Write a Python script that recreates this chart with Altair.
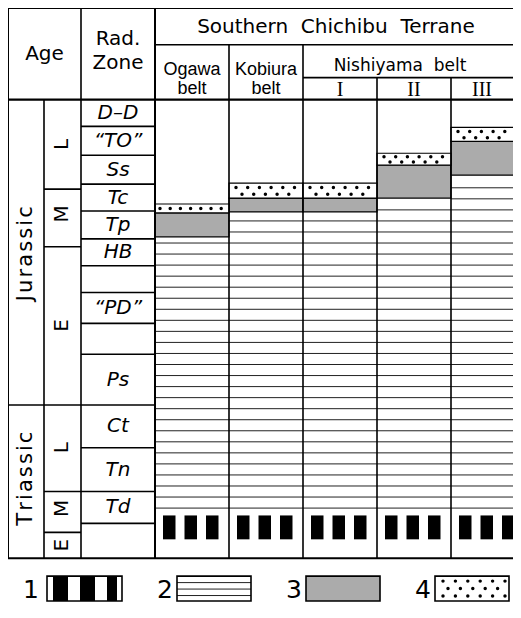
import altair as alt
import numpy as np
import pandas as pd

# ---------------- values ----------------
# radiolarian zones (top -> bottom) and their boundaries on the diagram's vertical scale
ZONE_LABELS = ["D–D", "“TO”", "Ss", "Tc", "Tp", "HB", "", "“PD”", "", "Ps", "Ct", "Tn", "Td", ""]
ZONE_TOP = [97, 124, 153, 182, 209, 237, 264, 291, 322, 353, 404, 447, 491, 523]
ZONE_BOTTOM = ZONE_TOP[1:] + [558]

PERIODS = ["Jurassic", "Triassic"]
PERIOD_TOP = [97, 404]
PERIOD_BOTTOM = [404, 558]

EPOCHS = ["L", "M", "E", "L", "M", "E"]
EPOCH_TOP = [97, 187, 245, 404, 491, 532]
EPOCH_BOTTOM = [187, 245, 404, 491, 532, 558]

BELTS = ["Ogawa", "Kobiura", "Nishiyama I", "Nishiyama II", "Nishiyama III"]
BELT_LEFT = [155, 229, 303, 377, 451]
BELT_RIGHT = [229, 303, 377, 451, 518]
SANDSTONE_TOP = [202, 181, 181, 151, 125]   # legend 4 (dotted)
SHALE_TOP = [211, 196, 196, 163, 139]       # legend 3 (grey)
CHERT_TOP = [235, 210, 210, 196, 173]       # legend 2 (ruled)
CHERT_BOTTOM = [508, 508, 508, 508, 508]
STRIPE_TOP = [515, 515, 515, 515, 515]      # legend 1 (black/white)
STRIPE_BOTTOM = [539, 539, 539, 539, 539]

LEGEND_KEYS = ["1", "2", "3", "4"]

# ---------------- layout ----------------
FRAME_L, FRAME_T, FRAME_B, FRAME_R = 8, 5, 558, 518
AGE_SPLIT, AGE_R, ZONE_R = 44, 81, 155
HEAD_ROW1, HEAD_ROW2, HEAD_B = 42, 75, 97
LEG_T, LEG_B = 576, 601
LEG_BOX = [(47, 122), (177, 251), (306, 380), (435, 509)]
LEG_NUM_X = [31, 165, 294, 423]
GREY = "#ababab"
VIS_R = 513

XS = alt.Scale(domain=[8, VIS_R], range=[0, VIS_R - 8], nice=False, zero=False)
YS = alt.Scale(domain=[5, 604], range=[0, 596], nice=False, zero=False)


def rect_layer(df, **kw):
    return alt.Chart(df).mark_rect(clip=True, **kw).encode(
        x=alt.X("x:Q", scale=XS, axis=None), x2="x2:Q",
        y=alt.Y("y:Q", scale=YS, axis=None), y2="y2:Q")


def rule_layer(df, color="black"):
    return alt.Chart(df).mark_rule(color=color, clip=True).encode(
        x=alt.X("x:Q", scale=XS, axis=None), x2="x2:Q",
        y=alt.Y("y:Q", scale=YS, axis=None), y2="y2:Q",
        strokeWidth=alt.StrokeWidth("w:Q", scale=None))


def text_layer(df, **kw):
    return alt.Chart(df).mark_text(color="black", align="center", baseline="middle", **kw).encode(
        x=alt.X("x:Q", scale=XS, axis=None), y=alt.Y("y:Q", scale=YS, axis=None), text="t:N")


def dot_layer(df):
    return alt.Chart(df).mark_circle(color="black", opacity=1, size=12).encode(
        x=alt.X("x:Q", scale=XS, axis=None), y=alt.Y("y:Q", scale=YS, axis=None))


layers = []

# ---- grey (3) ----
grey = pd.DataFrame(dict(x=BELT_LEFT, x2=BELT_RIGHT, y=SHALE_TOP, y2=CHERT_TOP))
layers.append(rect_layer(grey, fill=GREY, stroke="black", strokeWidth=1.2))

# ---- dotted (4) outline ----
sand = pd.DataFrame(dict(x=BELT_LEFT, x2=BELT_RIGHT, y=SANDSTONE_TOP, y2=SHALE_TOP))
layers.append(rect_layer(sand, fill="white", stroke="black", strokeWidth=1.2))

# dot pattern
dots = []
for L, R, t, b in zip(BELT_LEFT, BELT_RIGHT, SANDSTONE_TOP, SHALE_TOP):
    R = min(R, VIS_R)
    h = b - t
    if h < 12:
        for xv in np.arange(L + 5, R - 2, 10.2):
            dots.append(dict(x=xv, y=(t + b) / 2))
    else:
        for frac, off in [(0.30, 7), (0.74, 13)]:
            for xv in np.arange(L + off, R - 3, 11.7):
                dots.append(dict(x=xv, y=t + h * frac))
layers.append(dot_layer(pd.DataFrame(dots)))

# ---- ruled chert (2) ----
chert = []
for L, R, t, b in zip(BELT_LEFT, BELT_RIGHT, CHERT_TOP, CHERT_BOTTOM):
    for yv in np.arange(-5, 27) * 11.1 + 219:
        if t + 3 < yv <= b + 0.5:
            chert.append(dict(x=L, x2=R, y=yv, y2=yv, w=1.0))
layers.append(rule_layer(pd.DataFrame(chert), color="#222222"))

# ---- black/white band (1) ----
bars = []
for L, t, b in zip(BELT_LEFT, STRIPE_TOP, STRIPE_BOTTOM):
    for k in range(3):
        bars.append(dict(x=L + 8 + 21.5 * k, x2=L + 8 + 21.5 * k + 12.5, y=t, y2=b))
layers.append(rect_layer(pd.DataFrame(bars), fill="black"))

# ---- table grid ----
segs = []


def H(y, x1, x2, w=1.6):
    segs.append(dict(x=x1, x2=x2, y=y, y2=y, w=w))


def V(x, y1, y2, w=1.6):
    segs.append(dict(x=x, x2=x, y=y1, y2=y2, w=w))


H(FRAME_T, FRAME_L, FRAME_R, 2)
H(HEAD_ROW1, ZONE_R, FRAME_R)
H(HEAD_ROW2, BELT_LEFT[2], FRAME_R)
H(HEAD_B, FRAME_L, FRAME_R, 2.2)
H(FRAME_B, FRAME_L, FRAME_R, 2)
for yv in ZONE_TOP[1:]:
    H(yv, AGE_R, ZONE_R)
for yv in EPOCH_TOP[1:]:
    if yv in PERIOD_TOP:
        H(yv, FRAME_L, AGE_R)
    else:
        H(yv, AGE_SPLIT, AGE_R)
V(FRAME_L, FRAME_T, FRAME_B, 2)
V(AGE_R, FRAME_T, FRAME_B)
V(ZONE_R, FRAME_T, FRAME_B, 2)
V(AGE_SPLIT, HEAD_B, FRAME_B)
V(BELT_LEFT[1], HEAD_ROW1, FRAME_B)
V(BELT_LEFT[2], HEAD_ROW1, FRAME_B)
V(BELT_LEFT[3], HEAD_ROW2, FRAME_B)
V(BELT_LEFT[4], HEAD_ROW2, FRAME_B)
layers.append(rule_layer(pd.DataFrame(segs)))

# ---- texts ----
SANS = "DejaVu Sans"
head = pd.DataFrame([
    dict(x=44.5, y=51, t="Age"),
    dict(x=118, y=36, t="Rad."),
    dict(x=118, y=60, t="Zone"),
    dict(x=336, y=24, t="Southern\u00a0 Chichibu\u00a0 Terrane"),
])
layers.append(text_layer(head, font=SANS, fontSize=20))

belt_head = pd.DataFrame([
    dict(x=192, y=67, t="Ogawa"), dict(x=192, y=86, t="belt"),
    dict(x=266, y=67, t="Kobiura"), dict(x=266, y=86, t="belt"),
])
layers.append(text_layer(belt_head, font="Liberation Sans", fontSize=18))
layers.append(text_layer(pd.DataFrame([dict(x=400, y=63, t="Nishiyama\u00a0 belt")]),
                         font=SANS, fontSize=17))
roman = pd.DataFrame([dict(x=340, y=87, t="I"), dict(x=414, y=87, t="II"), dict(x=482, y=87, t="III")])
layers.append(text_layer(roman, font="Liberation Serif", fontSize=20))

zones = pd.DataFrame(dict(x=[118] * len(ZONE_LABELS),
                          y=[(a + b) / 2 for a, b in zip(ZONE_TOP, ZONE_BOTTOM)],
                          t=ZONE_LABELS))
layers.append(text_layer(zones, font=SANS, fontSize=20, fontStyle="italic"))

periods = pd.DataFrame(dict(x=[26, 26], y=[252, 478],
                            t=["\u200a".join(p) for p in PERIODS]))
layers.append(text_layer(periods, font=SANS, fontSize=21, angle=270))

epochs = pd.DataFrame(dict(x=[62] * len(EPOCHS),
                           y=[142, 212, 324, 447, 508, 545],
                           t=EPOCHS))
layers.append(text_layer(epochs, font=SANS, fontSize=20, angle=270))

# ---- legend ----
leg_fill = pd.DataFrame([dict(x=LEG_BOX[2][0], x2=LEG_BOX[2][1], y=LEG_T, y2=LEG_B)])
layers.append(rect_layer(leg_fill, fill=GREY))
leg_bars = pd.DataFrame([dict(x=a, x2=b, y=LEG_T, y2=LEG_B) for a, b in [(53, 68), (80, 95), (107, 117)]])
layers.append(rect_layer(leg_bars, fill="black"))
leg_lines = pd.DataFrame([dict(x=LEG_BOX[1][0], x2=LEG_BOX[1][1], y=yv, y2=yv, w=1.0)
                          for yv in [582.5, 589, 595.5]])
layers.append(rule_layer(leg_lines, color="#222222"))
leg_dots = []
for row, yv in enumerate([581, 588.5, 596]):
    xs = np.arange(448, 505, 12.4) if row == 1 else np.arange(443, 507, 12.4)
    leg_dots += [dict(x=xv, y=yv) for xv in xs]
layers.append(dot_layer(pd.DataFrame(leg_dots)))
leg_box = pd.DataFrame([dict(x=a, x2=b, y=LEG_T, y2=LEG_B) for a, b in LEG_BOX])
layers.append(rect_layer(leg_box, fill="transparent", stroke="black", strokeWidth=1.6))
leg_num = pd.DataFrame(dict(x=LEG_NUM_X, y=[590] * 4, t=LEGEND_KEYS))
layers.append(text_layer(leg_num, font=SANS, fontSize=25))

chart = alt.layer(*layers).properties(
    width=VIS_R - 8, height=596, padding=0, background="white",
    autosize=alt.AutoSizeParams(type="none")
).configure_view(stroke=None)

chart.save("out.html", embed_options={"renderer": "svg", "actions": False})
